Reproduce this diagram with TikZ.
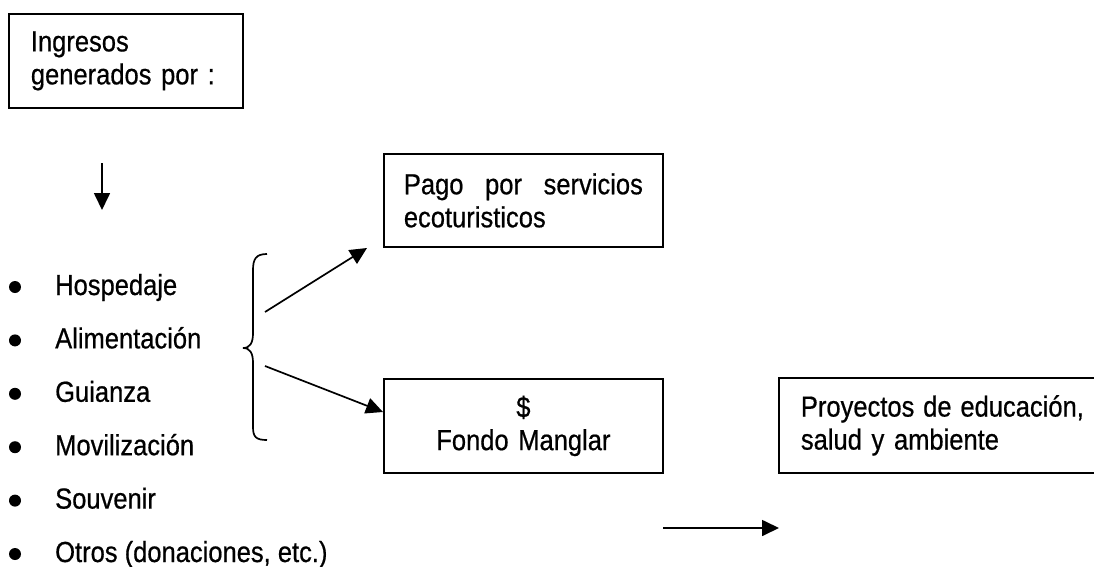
\documentclass[tikz,border=0pt]{standalone}
\usepackage{fontspec}
\setmainfont[FakeStretch=0.88, FakeBold=0.6]{Liberation Sans}
\usetikzlibrary{arrows.meta}

\tikzset{
    caja/.style={draw, line width=1.8pt, anchor=north west, inner xsep=20pt, inner ysep=0pt,
        font=\fontsize{29}{33}\selectfont},
    flecha/.style={line width=1.7pt, -{Triangle[length=17pt,width=16pt]}},
    vineta/.style={circle, fill, inner sep=0pt, minimum size=12pt},
    rubro/.style={anchor=base west, inner sep=0pt, font=\fontsize{29}{33}\selectfont}
}

\begin{document}
\begin{tikzpicture}[x=1pt, y=-1pt]
    \useasboundingbox (0,0) rectangle (1094,567);

    % Boxes
    \node[caja, inner xsep=22pt, text width=190pt, minimum height=94pt, align=left] (ingresos) at (8,13)
        {Ingresos\\generados por :};
    \node[caja, text width=239pt, minimum height=93pt, align=left] (pago) at (383,153)
        {Pago\hfill por\hfill servicios\\ecoturisticos};
    \node[caja, text width=239pt, minimum height=94pt, align=center] (fondo) at (383,378)
        {\$\\Fondo Manglar};
    \node[caja, draw=none, inner xsep=21pt, text width=283pt, minimum height=93pt, align=left] (proyectos) at (779,378)
        {Proyectos\hfill de\hfill educación,\\salud y ambiente};
    \coordinate (borde) at (1094,0);
    \draw[line width=1.8pt] (proyectos.north west -| borde) -- (proyectos.north west)
        -- (proyectos.south west) -- (proyectos.south west -| borde);

    % List of incomes
    \foreach \texto [count=\i] in {Hospedaje, Alimentación, Guianza, Movilización, Souvenir, {Otros (donaciones, etc.)}} {
        \pgfmathsetmacro{\yy}{295+53.4*(\i-1)}
        \node[rubro] (rubro\i) at (55,\yy) {\texto};
        \node[vineta] (punto\i) at (15,\yy-8) {};
    }

    % Brace
    \draw[line width=1.7pt] (267,254) .. controls (256,254) and (253,259) .. (253,270) -- (253,333)
        .. controls (253,343) and (250,348) .. (243,348)
        .. controls (250,348) and (253,353) .. (253,363) -- (253,427)
        .. controls (253,437) and (256,440) .. (267,440);

    % Arrows
    \coordinate (bajaA) at (102,163);
    \coordinate (bajaB) at (102,210);
    \coordinate (llaveA) at (265,312);
    \coordinate (pagoP) at (367,248);
    \coordinate (llaveB) at (265,366);
    \coordinate (fondoP) at (383,412);
    \coordinate (finA) at (663,528);
    \coordinate (finB) at (779,528);
    \draw[flecha] (bajaA) -- (bajaB);
    \draw[flecha] (llaveA) -- (pagoP);
    \draw[flecha] (llaveB) -- (fondoP);
    \draw[flecha] (finA) -- (finB);
\end{tikzpicture}
\end{document}
